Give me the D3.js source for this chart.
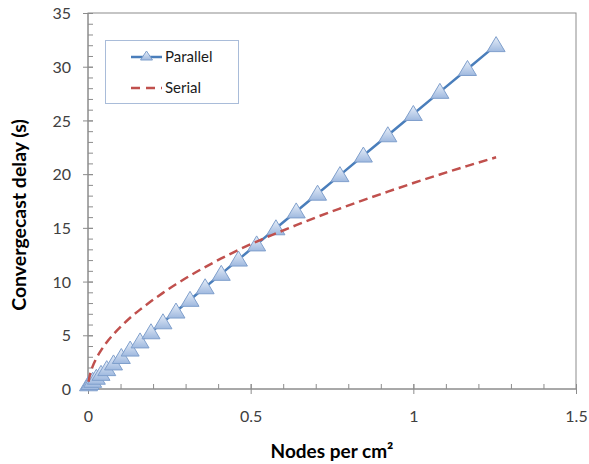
<!DOCTYPE html>
<html>
<head>
<meta charset="utf-8">
<script src="https://cdn.jsdelivr.net/npm/d3@7"></script>
<style>
  body { margin: 0; background: #fff; }
  text { font-family: Lato, "Open Sans", sans-serif; }
</style>
</head>
<body>
<svg class="chart"></svg>
<script>
// density values (nodes per cm^2) shared by both series
var density = [0.0016, 0.0064, 0.0144, 0.0256, 0.04, 0.0576, 0.0784, 0.1024, 0.1296, 0.16,
    0.1936, 0.2304, 0.2704, 0.3136, 0.36, 0.4096, 0.4624, 0.5184, 0.5776, 0.64,
    0.7056, 0.7744, 0.8464, 0.9216, 1.0, 1.0816, 1.1664, 1.2544];

// convergecast delay in seconds
var parallel = [0.44, 0.56, 0.76, 1.05, 1.41, 1.85, 2.38, 2.98, 3.67, 4.43,
    5.28, 6.21, 7.21, 8.30, 9.47, 10.72, 12.05, 13.46, 14.96, 16.53,
    18.18, 19.91, 21.73, 23.62, 25.6, 27.66, 29.79, 32.01];

var serial = [0.67, 1.39, 2.11, 2.85, 3.59, 4.35, 5.10, 5.86, 6.63, 7.39,
    8.16, 8.95, 9.75, 10.55, 11.35, 12.15, 12.95, 13.72, 14.48, 15.25,
    16.03, 16.8, 17.58, 18.37, 19.17, 19.97, 20.77, 21.57];

var xTicks = [0, 0.5, 1, 1.5];
var yTicks = [0, 5, 10, 15, 20, 25, 30, 35];

var margin = {top: 13, right: 13, bottom: 75, left: 88},
    width = 589 - margin.left - margin.right,
    height = 464 - margin.top - margin.bottom;

var svg = d3.select(".chart")
    .attr("width", width + margin.left + margin.right)
    .attr("height", height + margin.top + margin.bottom);

// gradient for the triangle markers
var grad = svg.append("defs").append("linearGradient")
    .attr("id", "tri").attr("x1", 0).attr("y1", 0).attr("x2", 0).attr("y2", 1);
grad.append("stop").attr("offset", "0%").attr("stop-color", "#e8eff9");
grad.append("stop").attr("offset", "100%").attr("stop-color", "#9fb9df");

var chart = svg.append("g")
    .attr("transform", "translate(" + margin.left + "," + margin.top + ")");

var x = d3.scaleLinear().domain([0, 1.5]).range([0, width]);
var y = d3.scaleLinear().domain([0, 35]).range([height, 0]);

// plot frame
chart.append("rect")
    .attr("width", width).attr("height", height)
    .attr("fill", "none").attr("stroke", "#8c8c8c").attr("stroke-width", 1);

// minor ticks point inward, major ticks cross the axis
var xAxis = d3.axisBottom(x).tickValues(d3.range(0, 1.51, 0.1)).tickSize(5).tickFormat("");
chart.append("g").attr("class", "minor")
    .attr("transform", "translate(0," + (height - 5) + ")")
    .call(xAxis);

var yAxis = d3.axisLeft(y).tickValues(d3.range(0, 35.1, 1)).tickSize(5).tickFormat("");
chart.append("g").attr("class", "minor")
    .attr("transform", "translate(5,0)")
    .call(yAxis);

var xMajor = chart.append("g")
    .attr("transform", "translate(0," + (height + 5) + ")")
    .call(d3.axisBottom(x).tickValues(xTicks).tickSize(-10).tickPadding(17).tickFormat(d3.format("")));

var yMajor = chart.append("g")
    .attr("transform", "translate(-5,0)")
    .call(d3.axisLeft(y).tickValues(yTicks).tickSize(-10).tickPadding(12).tickFormat(d3.format("")));

chart.selectAll(".domain").remove();
chart.selectAll(".tick line").attr("stroke", "#8c8c8c");
xMajor.selectAll("text").attr("font-size", 16).attr("fill", "#404040")
    .attr("font-family", "Lato, sans-serif");
yMajor.selectAll("text").attr("font-size", 16).attr("fill", "#404040")
    .attr("font-family", "Lato, sans-serif").attr("dy", "0.35em");
// axis lines
chart.append("line").attr("x1", 0).attr("x2", width).attr("y1", height).attr("y2", height)
    .attr("stroke", "#8c8c8c");
chart.append("line").attr("x1", 0).attr("x2", 0).attr("y1", 0).attr("y2", height)
    .attr("stroke", "#8c8c8c");

var parData = density.map(function (d, i) { return {x: d, y: parallel[i]}; });
var serData = density.map(function (d, i) { return {x: d, y: serial[i]}; });

var line = d3.line()
    .x(function (d) { return x(d.x); })
    .y(function (d) { return y(d.y); });

var triPath = "M0,-8.5L9,6.5L-9,6.5Z";

// Parallel series
chart.append("path").datum(parData)
    .attr("d", line)
    .attr("fill", "none").attr("stroke", "#4a7ebb").attr("stroke-width", 2.5);

chart.selectAll(".marker").data(parData).enter()
    .append("path").attr("class", "marker")
    .attr("d", triPath)
    .attr("transform", function (d) { return "translate(" + x(d.x) + "," + y(d.y) + ")"; })
    .attr("fill", "url(#tri)").attr("stroke", "#7f9fcc").attr("stroke-width", 1);

// Serial series
chart.append("path").datum(serData)
    .attr("d", d3.line().curve(d3.curveMonotoneX).x(function (d) { return x(d.x); }).y(function (d) { return y(d.y); }))
    .attr("fill", "none").attr("stroke", "#c0504d").attr("stroke-width", 2.5)
    .attr("stroke-dasharray", "9,5");

// axis titles
svg.append("text")
    .attr("x", margin.left + width / 2).attr("y", 458)
    .attr("text-anchor", "middle")
    .attr("font-size", 19).attr("font-weight", "bold").attr("fill", "#000")
    .text("Nodes per cm²");

svg.append("text")
    .attr("transform", "translate(26,215) rotate(-90)")
    .attr("text-anchor", "middle")
    .attr("font-size", 19.5).attr("font-weight", "bold").attr("fill", "#000")
    .text("Convergecast delay (s)");

// legend
var legend = svg.append("g");
legend.append("rect")
    .attr("x", 105.5).attr("y", 40.5).attr("width", 133).attr("height", 63)
    .attr("fill", "#fff").attr("stroke", "#a9bcd9");
legend.append("line").attr("x1", 131).attr("x2", 162).attr("y1", 57).attr("y2", 57)
    .attr("stroke", "#4a7ebb").attr("stroke-width", 2.5);
legend.append("path").attr("d", "M0,-5L6,4L-6,4Z")
    .attr("transform", "translate(146.5,56)")
    .attr("fill", "url(#tri)").attr("stroke", "#7f9fcc");
legend.append("text").attr("x", 165).attr("y", 62)
    .attr("font-size", 15).attr("fill", "#1a1a1a").text("Parallel");
legend.append("line").attr("x1", 131).attr("x2", 162).attr("y1", 88).attr("y2", 88)
    .attr("stroke", "#c0504d").attr("stroke-width", 2.5).attr("stroke-dasharray", "9,6");
legend.append("text").attr("x", 165).attr("y", 93)
    .attr("font-size", 15).attr("fill", "#1a1a1a").text("Serial");
</script>
</body>
</html>
